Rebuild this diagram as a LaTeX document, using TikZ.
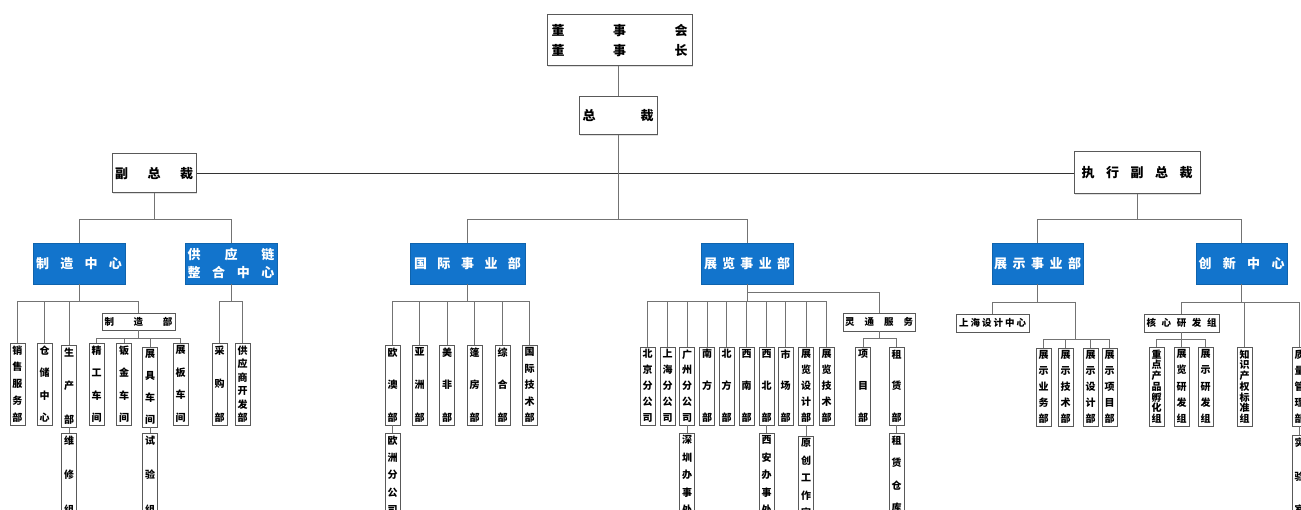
\documentclass[tikz,border=0pt]{standalone}
\usepackage{fontspec}
\newfontfamily\cjk{Noto Sans CJK SC}
\usetikzlibrary{shadows}
\definecolor{bluebox}{RGB}{18,116,204}
\definecolor{lncol}{RGB}{115,115,115}
\newcommand\VS{\par\vfill}
\tikzset{
 base/.style={draw=black!65, line width=0.9pt, fill=white, inner sep=0pt,
   drop shadow={shadow xshift=0.8pt,shadow yshift=-0.8pt,opacity=0.25}},
 vb/.style={base, minimum width=15pt, font=\cjk\bfseries\fontsize{10}{10.5}\selectfont},
 hb/.style={base, font=\cjk\bfseries\fontsize{9.5}{10}\selectfont},
 wb/.style={base, line width=1pt, font=\cjk\bfseries\fontsize{13}{15}\selectfont},
 bb/.style={fill=bluebox, draw=bluebox!85!black, line width=0.6pt, inner sep=0pt,
   text=white, font=\cjk\bfseries\fontsize{13}{15}\selectfont, minimum height=41pt,
   drop shadow={shadow xshift=0.8pt,shadow yshift=-0.8pt,opacity=0.25}},
 ln/.style={draw=lncol, line width=0.9pt},
 mainln/.style={draw=black!80, line width=1pt},
}
\newcommand\VB[5]{%
 \pgfmathsetmacro\myHH{#4-#3}\pgfmathsetmacro\myCY{(#3+#4)/2}\pgfmathsetmacro\myIH{#4-#3-6}%
 \node[vb,minimum height=\myHH pt] (#1) at (#2,\myCY) {\parbox[c][\myIH pt][s]{13pt}{\centering #5}};}
\begin{document}
\begin{tikzpicture}[x=1pt,y=-1pt]
\useasboundingbox (0,0) rectangle (1301,510);
\fill[white] (0,0) rectangle (1301,510);
\clip (0,0) rectangle (1301,510);

% ---- top levels
\node[wb, minimum width=145pt, minimum height=51pt] (dsh) at (619.5,40.5)
  {\vbox{\baselineskip=20pt\hbox to 136pt{董\hfil 事\hfil 会}\hbox to 136pt{董\hfil 事\hfil 长}}};
\node[wb, minimum width=78pt, minimum height=38pt] (ceo) at (618,116)
  {\hbox to 71pt{总\hfil 裁}};
\node[wb, minimum width=84pt, minimum height=39pt] (vp) at (154,173.5)
  {\hbox to 78pt{副\hfil 总\hfil 裁}};
\node[wb, minimum width=126pt, minimum height=42pt] (evp) at (1137,173)
  {\hbox to 111pt{执\hfil 行\hfil 副\hfil 总\hfil 裁}};

% ---- blue level
\node[bb, minimum width=92pt] (mfg) at (79,263.5) {\hbox to 86pt{制\hfil 造\hfil 中\hfil 心}};
\node[bb, minimum width=92pt] (sup) at (231,263.5)
  {\vbox{\baselineskip=18pt\hbox to 87pt{供\hfil 应\hfil 链}\hbox to 87pt{整\hfil 合\hfil 中\hfil 心}}};
\node[bb, minimum width=115pt] (intl) at (467.5,263.5) {\hbox to 107pt{国\hfil 际\hfil 事\hfil 业\hfil 部}};
\node[bb, minimum width=92pt] (exh) at (747,263.5) {\hbox to 86pt{展\hfil 览\hfil 事\hfil 业\hfil 部}};
\node[bb, minimum width=91pt] (disp) at (1037.5,263.5) {\hbox to 87pt{展\hfil 示\hfil 事\hfil 业\hfil 部}};
\node[bb, minimum width=91pt] (inno) at (1241.5,263.5) {\hbox to 86pt{创\hfil 新\hfil 中\hfil 心}};

% ---- manufacturing centre
\VB{xs}{17.5}{343}{425}{销\VS 售\VS 服\VS 务\VS 部}
\VB{cc}{44.5}{343}{425}{仓\VS 储\VS 中\VS 心}
\VB{scb}{69}{345}{427}{生\VS 产\VS 部}
\VB{wx}{69}{433}{517}{维\VS 修\VS 组}
\node[hb, minimum width=73pt, minimum height=17pt] (zzb) at (138.5,321.5) {\hbox to 68pt{制\hfil 造\hfil 部}};
\VB{jg}{96.5}{343}{425}{精\VS 工\VS 车\VS 间}
\VB{bj}{124}{343}{425}{钣\VS 金\VS 车\VS 间}
\VB{zj}{150}{347}{427}{展\VS 具\VS 车\VS 间}
\VB{syz}{150}{433}{517}{试\VS 验\VS 组}
\VB{zb}{180.5}{343}{425}{展\VS 板\VS 车\VS 间}

% ---- supply chain
\VB{cg}{219.5}{343}{425}{采\VS 购\VS 部}
\VB{gys}{242.5}{343}{425}{供\VS 应\VS 商\VS 开\VS 发\VS 部}

% ---- international
\VB{oa}{392.5}{345}{425}{欧\VS 澳\VS 部}
\VB{yz}{419.5}{345}{425}{亚\VS 洲\VS 部}
\VB{mf}{447}{345}{425}{美\VS 非\VS 部}
\VB{pf}{474.5}{345}{425}{篷\VS 房\VS 部}
\VB{zh}{502.5}{345}{425}{综\VS 合\VS 部}
\VB{gj}{529.5}{345}{425}{国\VS 际\VS 技\VS 术\VS 部}
\VB{ozf}{392.5}{433}{517}{欧\VS 洲\VS 分\VS 公\VS 司}

% ---- exhibition
\VB{bjf}{647.5}{347}{425}{北\VS 京\VS 分\VS 公\VS 司}
\VB{shf}{667.5}{347}{425}{上\VS 海\VS 分\VS 公\VS 司}
\VB{gzf}{687}{347}{425}{广\VS 州\VS 分\VS 公\VS 司}
\VB{nf}{707}{347}{425}{南\VS 方\VS 部}
\VB{bf}{726.5}{347}{425}{北\VS 方\VS 部}
\VB{xn}{746.5}{347}{425}{西\VS 南\VS 部}
\VB{xb}{766.5}{347}{425}{西\VS 北\VS 部}
\VB{scd}{785.5}{347}{425}{市\VS 场\VS 部}
\VB{zlsj}{806}{347}{425}{展\VS 览\VS 设\VS 计\VS 部}
\VB{zljs}{826.5}{347}{425}{展\VS 览\VS 技\VS 术\VS 部}
\VB{szb}{687}{433}{517}{深\VS 圳\VS 办\VS 事\VS 处}
\VB{xab}{766.5}{433}{517}{西\VS 安\VS 办\VS 事\VS 处}
\VB{ycg}{806}{436}{520}{原\VS 创\VS 工\VS 作\VS 室}
\node[hb, minimum width=72pt, minimum height=18pt] (lt) at (879,322) {\hbox to 68pt{灵\hfil 通\hfil 服\hfil 务}};
\VB{xm}{863}{347}{425}{项\VS 目\VS 部}
\VB{zl}{896.5}{347}{425}{租\VS 赁\VS 部}
\VB{zlck}{896.5}{433}{515}{租\VS 赁\VS 仓\VS 库}

% ---- display
\node[hb, minimum width=73pt, minimum height=18pt] (shsj) at (992.5,323) {\hbox to 67pt{上\hfil 海\hfil 设\hfil 计\hfil 中\hfil 心}};
\VB{zsyw}{1043.5}{348}{426}{展\VS 示\VS 业\VS 务\VS 部}
\VB{zsjs}{1065.5}{348}{426}{展\VS 示\VS 技\VS 术\VS 部}
\VB{zssj}{1090.5}{348}{426}{展\VS 示\VS 设\VS 计\VS 部}
\VB{zsxm}{1109.5}{348}{426}{展\VS 示\VS 项\VS 目\VS 部}

% ---- innovation
\node[hb, minimum width=75pt, minimum height=18pt] (hx) at (1181.5,323) {\hbox to 70pt{核\hfil 心\hfil 研\hfil 发\hfil 组}};
\VB{zdcp}{1156.5}{347}{426}{重\VS 点\VS 产\VS 品\VS 孵\VS 化\VS 组}
\VB{zlyf}{1181.5}{347}{426}{展\VS 览\VS 研\VS 发\VS 组}
\VB{zsyf}{1205.5}{347}{426}{展\VS 示\VS 研\VS 发\VS 组}
\VB{zscq}{1244.5}{347}{426}{知\VS 识\VS 产\VS 权\VS 标\VS 准\VS 组}
\VB{zlgl}{1299.5}{347}{426}{质\VS 量\VS 管\VS 理\VS 部}
\VB{sys}{1299.5}{435}{517}{实\VS 验\VS 室}

% ---- connectors
\coordinate (bA) at (0,219);
\coordinate (bB) at (0,301);
\coordinate (bC) at (0,338);
\coordinate (bD) at (0,292);
\coordinate (bE) at (0,302);
\coordinate (dj) at (1075,302);
\coordinate (djb) at (1075,339);

\draw[ln] (ceo.north |- dsh.south) -- (ceo.north);
\draw[mainln] (vp.east) -- (vp.east -| evp.west);
\draw[ln] (ceo.south) -- (ceo.south |- bA);
\draw[ln] (intl.north |- bA) -- (exh.north |- bA);
\foreach \n in {intl,exh} \draw[ln] (\n.north) -- (\n.north |- bA);
\draw[ln] (vp.south) -- (vp.south |- bA);
\draw[ln] (mfg.north |- bA) -- (sup.north |- bA);
\foreach \n in {mfg,sup} \draw[ln] (\n.north) -- (\n.north |- bA);
\draw[ln] (evp.south) -- (evp.south |- bA);
\draw[ln] (disp.north |- bA) -- (inno.north |- bA);
\foreach \n in {disp,inno} \draw[ln] (\n.north) -- (\n.north |- bA);

% manufacturing
\draw[ln] (mfg.south) -- (mfg.south |- bB);
\draw[ln] (xs.north |- bB) -- (zzb.north |- bB);
\foreach \n in {xs,cc,scb,zzb} \draw[ln] (\n.north) -- (\n.north |- bB);
\draw[ln] (zzb.south) -- (zzb.south |- bC);
\draw[ln] (jg.north |- bC) -- (zb.north |- bC);
\foreach \n in {jg,bj,zj,zb} \draw[ln] (\n.north) -- (\n.north |- bC);
\draw[ln] (scb.south) -- (wx.north);
\draw[ln] (zj.south) -- (syz.north);
% supply
\draw[ln] (sup.south) -- (sup.south |- bB);
\draw[ln] (cg.north |- bB) -- (gys.north |- bB);
\foreach \n in {cg,gys} \draw[ln] (\n.north) -- (\n.north |- bB);
% international
\draw[ln] (intl.south) -- (intl.south |- bB);
\draw[ln] (oa.north |- bB) -- (gj.north |- bB);
\foreach \n in {oa,yz,mf,pf,zh,gj} \draw[ln] (\n.north) -- (\n.north |- bB);
\draw[ln] (oa.south) -- (ozf.north);
% exhibition
\draw[ln] (exh.south) -- (exh.south |- bB);
\draw[ln] (bjf.north |- bB) -- (zljs.north |- bB);
\foreach \n in {bjf,shf,gzf,nf,bf,xn,xb,scd,zlsj,zljs} \draw[ln] (\n.north) -- (\n.north |- bB);
\draw[ln] (exh.south |- bD) -- (lt.north |- bD) -- (lt.north);
\draw[ln] (lt.south) -- (lt.south |- bC);
\draw[ln] (xm.north |- bC) -- (zl.north |- bC);
\foreach \n in {xm,zl} \draw[ln] (\n.north) -- (\n.north |- bC);
\draw[ln] (gzf.south) -- (szb.north);
\draw[ln] (xb.south) -- (xab.north);
\draw[ln] (zlsj.south) -- (ycg.north);
\draw[ln] (zl.south) -- (zlck.north);
% display
\draw[ln] (disp.south) -- (disp.south |- bE);
\draw[ln] (shsj.north |- bE) -- (dj);
\draw[ln] (shsj.north) -- (shsj.north |- bE);
\draw[ln] (dj) -- (djb);
\draw[ln] (zsyw.north |- djb) -- (zsxm.north |- djb);
\foreach \n in {zsyw,zsjs,zssj,zsxm} \draw[ln] (\n.north) -- (\n.north |- djb);
% innovation
\draw[ln] (inno.south) -- (inno.south |- bE);
\draw[ln] (hx.north |- bE) -- (zlgl.north |- bE);
\foreach \n in {hx,zscq,zlgl} \draw[ln] (\n.north) -- (\n.north |- bE);
\draw[ln] (hx.south) -- (hx.south |- djb);
\draw[ln] (zdcp.north |- djb) -- (zsyf.north |- djb);
\foreach \n in {zdcp,zlyf,zsyf} \draw[ln] (\n.north) -- (\n.north |- djb);
\draw[ln] (zlgl.south) -- (sys.north);
\end{tikzpicture}
\end{document}
